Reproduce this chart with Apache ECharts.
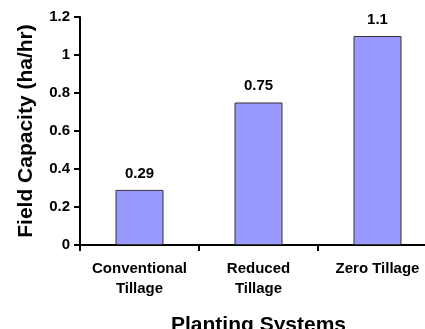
<!DOCTYPE html>
<html>
<head>
<meta charset="utf-8">
<script src="https://cdn.jsdelivr.net/npm/echarts@6/dist/echarts.min.js"></script>
<style>
  html, body { margin: 0; padding: 0; background: #fff; }
  #chart { width: 425px; height: 329px; }
</style>
</head>
<body>
<div id="chart"></div>
<script>
// data
const categories = ["Conventional\nTillage", "Reduced\nTillage", "Zero Tillage"];
const capacity = [0.29, 0.75, 1.1];
const yTicks = [0, 0.2, 0.4, 0.6, 0.8, 1, 1.2];

const chart = echarts.init(document.getElementById("chart"));
const font = "Arial, 'Liberation Sans', sans-serif";

chart.setOption({
  backgroundColor: "#fff",
  animation: false,
  grid: { left: 80, top: 17, bottom: 84, width: 357, outerBoundsMode: "none", containLabel: false },
  xAxis: {
    type: "category",
    data: categories,
    name: "Planting Systems",
    nameLocation: "middle",
    nameGap: 70,
    nameTextStyle: { fontFamily: font, fontWeight: "bold", fontSize: 21, color: "#000" },
    axisLine: { lineStyle: { color: "#000", width: 2 } },
    axisTick: { show: true, length: 6, lineStyle: { color: "#000", width: 2 } },
    axisLabel: {
      interval: 0,
      margin: 14,
      fontFamily: font,
      fontWeight: "bold",
      fontSize: 15,
      lineHeight: 20,
      color: "#000"
    }
  },
  yAxis: {
    type: "value",
    min: 0,
    max: yTicks[yTicks.length - 1],
    interval: 0.2,
    name: "Field Capacity (ha/hr)",
    nameLocation: "middle",
    nameGap: 43,
    nameTextStyle: { fontFamily: font, fontWeight: "bold", fontSize: 21, color: "#000" },
    axisLine: { show: true, lineStyle: { color: "#000", width: 2 } },
    axisTick: { show: true, length: 6, lineStyle: { color: "#000", width: 2 } },
    splitLine: { show: false },
    axisLabel: {
      margin: 10,
      fontFamily: font,
      fontWeight: "bold",
      fontSize: 15,
      color: "#000",
      formatter: v => String(Math.round(v * 10) / 10)
    }
  },
  series: [{
    type: "bar",
    data: capacity,
    barWidth: 48,
    itemStyle: { color: "#9999FF", borderColor: "#333", borderWidth: 1 },
    label: {
      show: true,
      position: "top",
      distance: 9,
      fontFamily: font,
      fontWeight: "bold",
      fontSize: 15,
      color: "#000"
    }
  }]
});
</script>
</body>
</html>
